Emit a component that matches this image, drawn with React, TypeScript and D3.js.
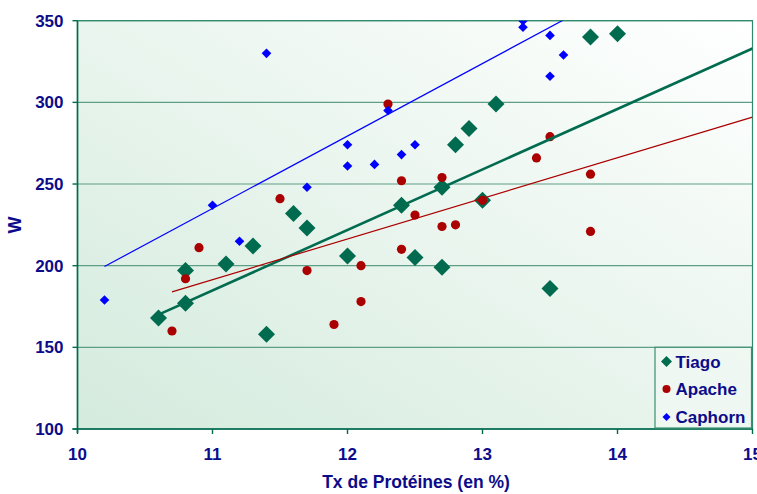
import React from "react";
import * as d3 from "d3";

const tiagoX = [10.6, 10.8, 10.8, 11.1, 11.3, 11.4, 11.6, 11.7, 12.0, 12.4, 12.5, 12.7, 12.7, 12.8, 12.9, 13.0, 13.1, 13.5, 13.8, 14.0];
const tiagoY = [168, 197, 177, 201, 212, 158, 232, 223, 206, 237, 205, 199, 248, 274, 284, 240, 299, 186, 340, 342];

const apacheX = [10.7, 10.8, 10.9, 11.5, 11.7, 11.9, 12.1, 12.1, 12.3, 12.4, 12.4, 12.5, 12.7, 12.7, 12.8, 13.0, 13.4, 13.5, 13.8, 13.8];
const apacheY = [160, 192, 211, 241, 197, 164, 200, 178, 299, 252, 210, 231, 254, 224, 225, 240, 266, 279, 256, 221];

const caphornX = [10.2, 11.0, 11.2, 11.4, 11.7, 12.0, 12.0, 12.2, 12.3, 12.4, 12.5, 13.3, 13.3, 13.5, 13.5, 13.6];
const caphornY = [179, 237, 215, 330, 248, 274, 261, 262, 295, 268, 274, 350, 346, 341, 316, 329];

// trend lines: [x0, y0, x1, y1] in data units
const tiagoTrend = [10.6, 170, 15, 333];
const apacheTrend = [10.7, 184, 15, 291];
const caphornTrend = [10.2, 199.5, 15, 412.6];

const xTicks = [10, 11, 12, 13, 14, 15];
const yTicks = [100, 150, 200, 250, 300, 350];
const seriesNames = ["Tiago", "Apache", "Caphorn"];

const W = 757;
const H = 494;
const L = 77.5;
const R = 752.5;
const T = 20.7;
const B = 429;

const TXT = "#0c0c8a";
const GREEN = "#006b4f";
const RED = "#aa0000";
const BLUE = "#0000ff";
const GRID = "#5e9e86";
const FONT = "Arial, 'Liberation Sans', sans-serif";

export default function App() {
  const x = d3.scaleLinear().domain([10, 15]).range([L, R]);
  const y = d3.scaleLinear().domain([100, 350]).range([B, T]);

  const diamond = (cx: number, cy: number, r: number) =>
    `M${cx},${cy - r}L${cx + r},${cy}L${cx},${cy + r}L${cx - r},${cy}Z`;

  const line = d3.line<[number, number]>().x((d) => x(d[0])).y((d) => y(d[1]));
  const trend = (t: number[]) => line([[t[0], t[1]], [t[2], t[3]]]) || "";

  const legX = 655;
  const legY = 347.3;
  const legRows = [361.5, 389, 417];

  return (
    <svg width={W} height={H} style={{ display: "block", position: "absolute", left: 0, top: 0 }} fontFamily={FONT}>
      <defs>
        <linearGradient id="bg" x1="0" y1="1" x2="1" y2="0">
          <stop offset="0" stopColor="#d4ebdd" />
          <stop offset="1" stopColor="#ffffff" />
        </linearGradient>
        <clipPath id="clip">
          <rect x={L} y={T} width={R - L} height={B - T} />
        </clipPath>
      </defs>
      <rect x={0} y={0} width={W} height={H} fill="#fff" />
      <rect x={L} y={T} width={R - L} height={B - T} fill="url(#bg)" />
      {yTicks.slice(1).map((t) => (
        <line key={t} x1={L} x2={R} y1={y(t)} y2={y(t)} stroke={GRID} strokeWidth={1.2} />
      ))}
      <rect x={L} y={T} width={R - L} height={B - T} fill="none" stroke="#2f8a6c" strokeWidth={1.2} />
      {/* axes */}
      <line x1={L} x2={L} y1={T} y2={B + 4} stroke={GREEN} strokeWidth={1.6} />
      <line x1={L - 5} x2={R} y1={B} y2={B} stroke={GREEN} strokeWidth={1.6} />
      {yTicks.map((t) => (
        <g key={t}>
          <line x1={L - 5} x2={L} y1={y(t)} y2={y(t)} stroke={GREEN} strokeWidth={1.4} />
          <text x={L - 14} y={y(t) + 6} textAnchor="end" fontSize={17} fontWeight="bold" fill={TXT}>
            {t}
          </text>
        </g>
      ))}
      {xTicks.map((t) => (
        <g key={t}>
          <line x1={x(t)} x2={x(t)} y1={B} y2={B + 5} stroke={GREEN} strokeWidth={1.4} />
          <text x={x(t)} y={460} textAnchor="middle" fontSize={17} fontWeight="bold" fill={TXT}>
            {t}
          </text>
        </g>
      ))}
      <text x={(L + R) / 2 + 1} y={488} textAnchor="middle" fontSize={17.5} fontWeight="bold" fill={TXT}>
        Tx de Protéines (en %)
      </text>
      <text transform={`translate(21,225) rotate(-90)`} textAnchor="middle" fontSize={18} fontWeight="bold" fill={TXT}>
        W
      </text>

      <g clipPath="url(#clip)">
        {tiagoX.map((v, i) => (
          <path key={"t" + i} d={diamond(x(v), y(tiagoY[i]), 8.5)} fill={GREEN} />
        ))}
        {apacheX.map((v, i) => (
          <circle key={"a" + i} cx={x(v)} cy={y(apacheY[i])} r={4.6} fill={RED} />
        ))}
        {caphornX.map((v, i) => (
          <path key={"c" + i} d={diamond(x(v), y(caphornY[i]), 4.8)} fill={BLUE} />
        ))}
        <path d={trend(tiagoTrend)} stroke={GREEN} strokeWidth={2.6} fill="none" />
        <path d={trend(apacheTrend)} stroke={RED} strokeWidth={1.2} fill="none" />
        <path d={trend(caphornTrend)} stroke={BLUE} strokeWidth={1.2} fill="none" />
      </g>

      {/* legend */}
      <rect x={legX} y={legY} width={R - 1 - legX} height={B - 1 - legY} fill="#eef7f1" fillOpacity={0.9} stroke="#3d8f72" strokeWidth={1.2} />
      {seriesNames.map((n, i) => (
        <g key={n}>
          {i === 0 && <path d={diamond(legX + 11.5, legRows[i], 5.5)} fill={GREEN} />}
          {i === 1 && <circle cx={legX + 11.5} cy={legRows[i]} r={4} fill={RED} />}
          {i === 2 && <path d={diamond(legX + 11.5, legRows[i], 4)} fill={BLUE} />}
          <text x={legX + 20.5} y={legRows[i] + 6} fontSize={17} fontWeight="bold" fill={TXT}>
            {n}
          </text>
        </g>
      ))}
    </svg>
  );
}
